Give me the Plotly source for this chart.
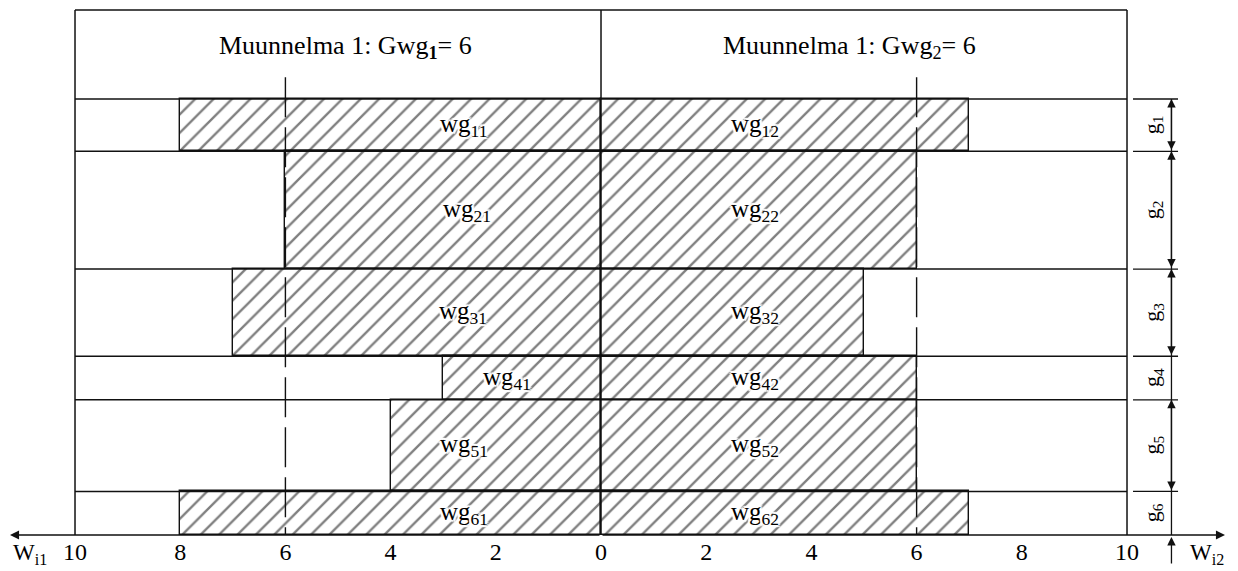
import plotly.graph_objects as go

# Groups (rows, top to bottom) and their relative weights (row heights)
groups = ["g1", "g2", "g3", "g4", "g5", "g6"]
group_weights = [0.12, 0.27, 0.20, 0.10, 0.21, 0.10]

# Widths per group for the two variants: W_i1 (drawn to the left) and W_i2 (to the right)
w_left = [8, 6, 7, 3, 4, 8]
w_right = [7, 6, 5, 6, 6, 7]

# Reference width Gwg for each side
gwg_left = 6
gwg_right = 6

tick_vals = [-10, -8, -6, -4, -2, 0, 2, 4, 6, 8, 10]
tick_text = ["10", "8", "6", "4", "2", "0", "2", "4", "6", "8", "10"]

header_left = "Muunnelma 1: Gwg<sub><b>1</b></sub>= 6"
header_right = "Muunnelma 1: Gwg<sub>2</sub>= 6"

# ---- geometry helpers -------------------------------------------------------
FRAME = 10          # half-width of the frame in axis units
HEADER = 0.204      # header band height in y units
TOP = 1.0 + HEADER
SERIF = "Liberation Serif, Times New Roman, serif"
INK = "#111111"

# row boundaries (top to bottom)
bounds = [1.0]
for w in group_weights:
    bounds.append(bounds[-1] - w)
centers = [(a + b) / 2 for a, b in zip(bounds[:-1], bounds[1:])]

fig = go.Figure()

hatch = dict(shape="/", fgcolor="#000000", bgcolor="white", size=13, solidity=0.18)

fig.add_trace(go.Bar(
    y=centers, x=[-v for v in w_left], width=group_weights, orientation="h",
    marker=dict(color="white", pattern=hatch, line=dict(color=INK, width=1.4)),
    hoverinfo="skip", showlegend=False,
))
fig.add_trace(go.Bar(
    y=centers, x=w_right, width=group_weights, orientation="h",
    marker=dict(color="white", pattern=hatch, line=dict(color=INK, width=1.4)),
    hoverinfo="skip", showlegend=False,
))

shapes = []


def hline(y, x0, x1, width=1.5):
    shapes.append(dict(type="line", xref="x", yref="y", x0=x0, x1=x1, y0=y, y1=y,
                       line=dict(color=INK, width=width)))


def vline(x, y0, y1, width=1.5, dash="solid"):
    shapes.append(dict(type="line", xref="x", yref="y", x0=x, x1=x, y0=y0, y1=y1,
                       line=dict(color=INK, width=width, dash=dash)))


# outer frame, header band and row separators
hline(TOP, -FRAME, FRAME)
for b in bounds[:-1]:
    hline(b, -FRAME, FRAME)
for xv in (-FRAME, 0, FRAME):
    vline(xv, 0, TOP)

# reference widths Gwg (long-dash lines, drawn downward from the header)
DASH_TOP = 1.05
vline(-gwg_left, DASH_TOP, 0, width=1.4, dash="40px,10px")
vline(gwg_right, DASH_TOP, 0, width=1.4, dash="40px,10px")

# dimension column for the group weights
DIM_X = FRAME + 0.845
TICK_X0, TICK_X1 = FRAME + 0.114, FRAME + 0.97
LBL_X = FRAME + 0.494
for b in bounds[:-1]:
    hline(b, TICK_X0, TICK_X1, width=1.3)
vline(DIM_X, 0, 1.0, width=1.3)

annotations = []

# headers
annotations.append(dict(x=-4.85, y=1.119, xref="x", yref="y", text=header_left,
                        showarrow=False, font=dict(family=SERIF, size=26, color="black")))
annotations.append(dict(x=4.72, y=1.119, xref="x", yref="y", text=header_right,
                        showarrow=False, font=dict(family=SERIF, size=26, color="black")))

halo = ("white 2px 0px 1px, white -2px 0px 1px, white 0px 2px 1px, white 0px -2px 1px, "
        "white 2px 2px 1px, white -2px -2px 1px, white 2px -2px 1px, white -2px 2px 1px")

# bar labels wg_ij
left_label_x = [-2.62, -2.55, -2.62, -1.79, -2.6, -2.6]
for i, c in enumerate(centers):
    k = i + 1
    annotations.append(dict(x=left_label_x[i], y=c, xref="x", yref="y",
                            text=f"wg<sub>{k}1</sub>", showarrow=False,
                            font=dict(family=SERIF, size=25, color="black", shadow=halo)))
    annotations.append(dict(x=2.92, y=c, xref="x", yref="y",
                            text=f"wg<sub>{k}2</sub>", showarrow=False,
                            font=dict(family=SERIF, size=25, color="black", shadow=halo)))

# group labels and dimension arrows
for i, c in enumerate(centers):
    annotations.append(dict(x=LBL_X, y=c, xref="x", yref="y",
                            text=f"g<sub>{i + 1}</sub>", textangle=-90, showarrow=False,
                            font=dict(family=SERIF, size=22, color="black")))
    if group_weights[i] > 0.105:
        annotations.append(dict(x=DIM_X, y=bounds[i], ax=DIM_X, ay=bounds[i + 1],
                                xref="x", yref="y", axref="x", ayref="y", text="",
                                showarrow=True, arrowside="end+start", arrowhead=2,
                                startarrowhead=2, arrowsize=1.3, startarrowsize=1.3,
                                arrowwidth=1.3, arrowcolor=INK, standoff=0, startstandoff=0))

# horizontal axis with arrows at both ends
AX_LEFT_TIP = -11.236
AX_RIGHT_TIP = 11.863
for tip in (AX_LEFT_TIP, AX_RIGHT_TIP):
    annotations.append(dict(x=tip, y=0, ax=0, ay=0, xref="x", yref="paper",
                            axref="x", ayref="pixel", text="", showarrow=True,
                            arrowhead=2, arrowsize=1.3, arrowwidth=1.4, arrowcolor=INK,
                            standoff=0))
# small arrow under the axis in the dimension column
annotations.append(dict(x=DIM_X, y=-0.0037, ax=DIM_X, ay=28, xref="x", yref="paper",
                        axref="x", ayref="pixel", text="", showarrow=True,
                        arrowhead=2, arrowsize=1.3, arrowwidth=1.3, arrowcolor=INK,
                        standoff=0))

# axis names
annotations.append(dict(x=29.5 / 1238, y=-0.036, xref="paper", yref="paper",
                        xanchor="center", yanchor="middle",
                        text="W<sub>i1</sub>", showarrow=False,
                        font=dict(family=SERIF, size=23, color="black")))
annotations.append(dict(x=1206.5 / 1238, y=-0.036, xref="paper", yref="paper",
                        xanchor="center", yanchor="middle",
                        text="W<sub>i2</sub>", showarrow=False,
                        font=dict(family=SERIF, size=23, color="black")))

fig.update_layout(
    width=1238, height=571,
    margin=dict(l=0, r=0, t=0, b=36),
    paper_bgcolor="white", plot_bgcolor="white",
    barmode="overlay", bargap=0,
    shapes=shapes, annotations=annotations,
    xaxis=dict(range=[-11.426, 12.110], tickvals=tick_vals, ticktext=tick_text,
               showgrid=False, zeroline=False, showline=False, ticks="",
               tickfont=dict(family=SERIF, size=24, color="black"), fixedrange=True),
    yaxis=dict(range=[0, 535 / 436], visible=False, fixedrange=True),
)

fig.write_html("out.html")
